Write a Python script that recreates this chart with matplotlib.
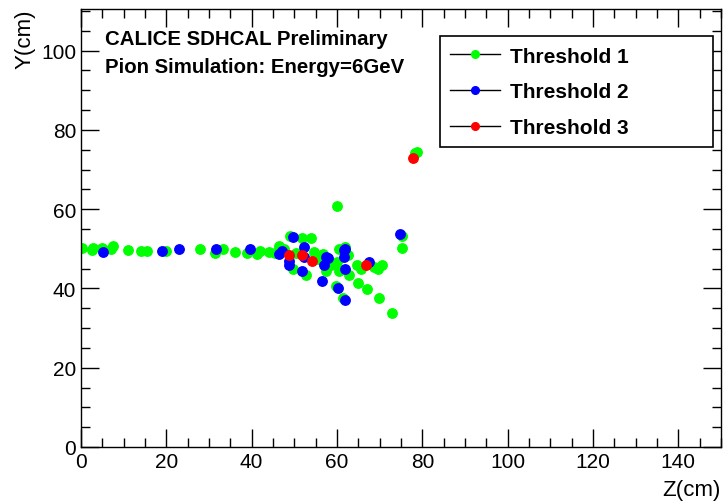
import matplotlib
matplotlib.use('Agg')
import matplotlib.pyplot as plt
from matplotlib.ticker import MultipleLocator

plt.rcParams['font.family'] = ['Liberation Sans', 'DejaVu Sans']

# hit positions (Z, Y) in cm
z_thr1 = [0.3, 2.8, 2.5, 5.0, 7.0, 7.5, 11.0, 14.0, 15.4, 20.0, 28.0, 31.5, 33.4, 36.1, 39.0,
          41.3, 42.0, 44.0, 45.5, 46.5, 47.5, 49.0, 49.6, 50.5, 51.9, 52.7, 53.9, 54.7, 55.5,
          56.8, 57.4, 57.0, 58.5, 60.0, 60.5, 60.1, 60.5, 59.7, 61.5, 61.9, 62.7, 62.5, 64.8,
          65.6, 64.9, 67.0, 68.7, 69.6, 70.5, 69.9, 72.8, 75.3, 75.2, 78.3, 78.8]
y_thr1 = [50.2, 50.3, 49.6, 50.1, 49.9, 50.6, 49.7, 49.4, 49.5, 49.5, 49.9, 48.9, 49.9, 49.3, 48.9,
          48.8, 49.4, 49.2, 49.0, 50.8, 50.0, 53.3, 44.9, 49.0, 52.7, 43.3, 52.7, 49.2, 47.5,
          48.7, 44.3, 46.5, 46.0, 60.8, 50.0, 46.6, 44.5, 40.6, 37.5, 50.5, 43.3, 48.5, 46.0,
          44.9, 41.4, 39.9, 45.4, 44.9, 46.0, 37.6, 33.8, 53.2, 50.3, 74.2, 74.4]

z_thr2 = [5.2, 18.9, 22.9, 31.7, 39.5, 46.3, 47.0, 49.6, 48.8, 48.8, 52.3, 52.3, 51.8, 56.9,
          57.4, 57.8, 56.6, 61.7, 61.9, 61.7, 61.9, 60.3, 61.9, 67.5, 74.8]
y_thr2 = [49.3, 49.4, 50.0, 50.0, 50.0, 48.7, 49.5, 53.0, 45.8, 46.8, 50.4, 47.9, 44.5, 45.8,
          47.9, 47.6, 41.9, 49.6, 50.0, 47.9, 44.8, 40.2, 37.1, 46.6, 53.8]

z_thr3 = [48.8, 51.8, 54.1, 66.8, 77.9]
y_thr3 = [48.5, 48.5, 47.0, 46.0, 73.0]

fig = plt.figure(figsize=(7.25, 5.02), dpi=100)
ax = fig.add_axes([0.1117, 0.1076, 0.8828, 0.8725])

ms = 6.8
ax.plot(z_thr1, y_thr1, 'o', color='#00ff00', ms=ms, mec='#00ff00')
ax.plot(z_thr2, y_thr2, 'o', color='#0000ff', ms=ms, mec='#0000ff')
ax.plot(z_thr3, y_thr3, 'o', color='#ff0000', ms=ms, mec='#ff0000')

ax.set_xlim(0, 150)
ax.set_ylim(0, 110.5)
ax.xaxis.set_major_locator(MultipleLocator(20))
ax.xaxis.set_minor_locator(MultipleLocator(5))
ax.yaxis.set_major_locator(MultipleLocator(20))
ax.yaxis.set_minor_locator(MultipleLocator(5))
ax.tick_params(which='both', direction='in', top=True, right=True, labelsize=15, width=1)
ax.tick_params(which='major', length=13)
ax.tick_params(which='minor', length=6.5)
for s in ax.spines.values():
    s.set_linewidth(1)

ax.set_xlabel('Z(cm)', fontsize=16, loc='right', labelpad=6)
ax.set_ylabel('Y(cm)', fontsize=16, loc='top', labelpad=4)

ax.text(0.037, 0.955, 'CALICE SDHCAL Preliminary', transform=ax.transAxes,
        fontsize=14.7, fontweight='bold', va='top')
ax.text(0.037, 0.890, 'Pion Simulation: Energy=6GeV', transform=ax.transAxes,
        fontsize=14.7, fontweight='bold', va='top')

# legend drawn with line + marker like ROOT
handles = []
for c in ['#00ff00', '#0000ff', '#ff0000']:
    h, = ax.plot([], [], '-', color='black', lw=1, marker='o', mfc=c, mec=c, ms=5.5)
    handles.append(h)
leg = ax.legend(handles, ['Threshold 1', 'Threshold 2', 'Threshold 3'],
                loc='upper left', bbox_to_anchor=(0.561, 0.689, 0.4266, 0.249),
                mode='expand', fancybox=False,
                framealpha=1, edgecolor='black', prop={'weight': 'bold', 'size': 15},
                handlelength=2.4, handletextpad=0.45, labelspacing=0.8,
                borderpad=0.5, borderaxespad=0)
leg.get_frame().set_linewidth(1.2)

plt.savefig('out.png', dpi=100)
